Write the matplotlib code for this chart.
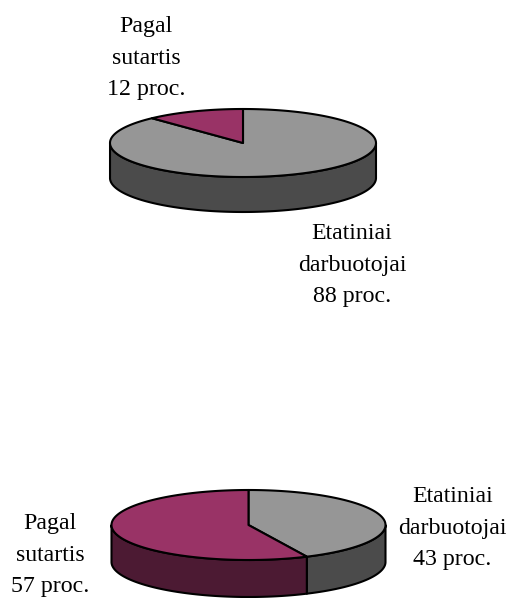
import numpy as np
import matplotlib
matplotlib.use("Agg")
import matplotlib.pyplot as plt

plt.rcParams['font.family'] = ['Liberation Serif', 'DejaVu Sans']

categories = ["Etatiniai darbuotojai", "Pagal sutartis"]
values_top = [88, 12]
values_bottom = [43, 57]
labels_top = ["Etatiniai\ndarbuotojai\n88 proc.", "Pagal\nsutartis\n12 proc."]
labels_bottom = ["Etatiniai\ndarbuotojai\n43 proc.", "Pagal\nsutartis\n57 proc."]
top_colors = ["#969696", "#993366"]
side_colors = ["#4b4b4b", "#4c1a33"]
EDGE = "#000000"

fig = plt.figure(figsize=(5.10, 5.98), dpi=100)
ax = fig.add_axes([0, 0, 1, 1])
ax.set_xlim(0, 510)
ax.set_ylim(598, 0)
ax.axis("off")


def pie3d(ax, values, cx, cy, rx, ry, depth):
    fr = np.cumsum([0] + list(values)) / sum(values)
    for i in range(len(values)):
        a0, a1 = 2 * np.pi * fr[i], 2 * np.pi * fr[i + 1]
        t = np.linspace(a0, a1, 240)
        # front wall: only where the rim faces the viewer
        vis = t[(t >= np.pi / 2) & (t <= 3 * np.pi / 2)]
        if len(vis):
            xs = cx + rx * np.sin(vis)
            ys = cy - ry * np.cos(vis)
            ax.fill(np.r_[xs, xs[::-1]], np.r_[ys, ys[::-1] + depth],
                    fc=side_colors[i], ec=EDGE, lw=1.5, joinstyle="round", zorder=2)
    for i in range(len(values)):
        a0, a1 = 2 * np.pi * fr[i], 2 * np.pi * fr[i + 1]
        t = np.linspace(a0, a1, 240)
        xs = cx + rx * np.sin(t)
        ys = cy - ry * np.cos(t)
        ax.fill(np.r_[cx, xs], np.r_[cy, ys], fc=top_colors[i], ec=EDGE,
                lw=1.5, joinstyle="round", zorder=3)


pie3d(ax, values_top, 243, 143, 133, 34, 35)
pie3d(ax, values_bottom, 248.5, 525, 137, 35, 37)

fs = 17.2
kw = dict(ha="center", va="baseline", multialignment="center", fontsize=fs,
          color="black", linespacing=1.65)
ax.text(352, 302, labels_top[0], **kw)
ax.text(146, 95, labels_top[1], **kw)
ax.text(452.5, 565, labels_bottom[0], **kw)
ax.text(50, 592, labels_bottom[1], **kw)

fig.savefig("out.png", dpi=100, facecolor="white")
